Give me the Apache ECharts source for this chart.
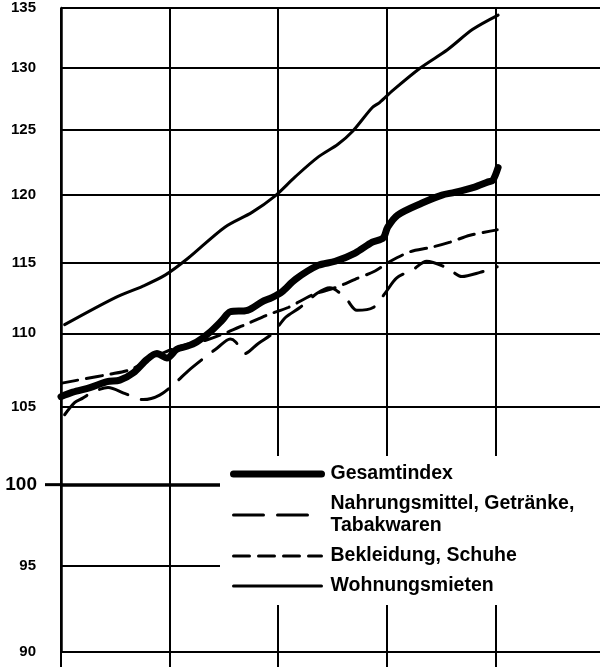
<!DOCTYPE html>
<html>
<head>
<meta charset="utf-8">
<script src="https://cdn.jsdelivr.net/npm/echarts@6.0.0/dist/echarts.min.js"></script>
<style>
  html, body { margin: 0; padding: 0; background: #fff; }
  #chart { width: 600px; height: 671px; }
</style>
</head>
<body>
<div id="chart"></div>
<script>
// index values, x = months from the first grid line
const yTicks = [90, 95, 100, 105, 110, 115, 120, 125, 130, 135]
const names = ['Gesamtindex', 'Nahrungsmittel, Getränke,\nTabakwaren', 'Bekleidung, Schuhe', 'Wohnungsmieten']

const gesamtindex = [
  [0, 105.7], [1.3, 106.0], [3.2, 106.3], [5.1, 106.7], [6.5, 106.8], [8, 107.3],
  [9.5, 108.2], [10.6, 108.6], [11.7, 108.3], [12.8, 108.9], [13.9, 109.1], [15, 109.4],
  [16.5, 110.1], [17.8, 110.9], [18.7, 111.5], [20.6, 111.6], [22.2, 112.2], [23.3, 112.5],
  [24.4, 112.9], [25.9, 113.8], [28.4, 114.8], [30.3, 115.1], [32.5, 115.7], [34.4, 116.5],
  [35.6, 116.8], [36.1, 117.6], [37.2, 118.5], [39.9, 119.4], [42.1, 120.0], [43.5, 120.2],
  [45.7, 120.6], [47.2, 121.0], [47.7, 121.1], [48.3, 122.1]
]

const nahrung = [
  [0.4, 104.5], [1.5, 105.3], [2.4, 105.6], [3.5, 106.0], [5.2, 106.3], [7.1, 105.9],
  [9.1, 105.5], [10.9, 105.8], [12.6, 106.6], [14, 107.4], [15.6, 108.2], [17.3, 109.0],
  [18.7, 109.6], [19.3, 109.4], [20.3, 108.6], [21.8, 109.3], [23.4, 110.0], [24.8, 111.1],
  [26.4, 111.8], [28.3, 112.8], [29.7, 113.2], [31.4, 112.5], [32.7, 111.6], [34.5, 111.8],
  [35.8, 112.8], [37.1, 113.9], [38.9, 114.5], [40.4, 115.1], [42.7, 114.6], [44.3, 114.0],
  [46.3, 114.3], [48.2, 114.7]
]

const bekleidung = [
  [0.1, 106.6], [2.7, 106.9], [5.4, 107.2], [7.6, 107.5], [9.8, 108.2], [11.5, 108.7],
  [13.7, 109.2], [15.9, 109.5], [18.1, 110.0], [20.7, 110.7], [22.9, 111.3], [25.1, 111.8],
  [27.8, 112.7], [30.3, 113.2], [32.5, 113.8], [34.7, 114.4], [36.4, 115.1], [38.6, 115.8],
  [40.8, 116.1], [43, 116.5], [45.2, 117.0], [48.2, 117.4]
]

const wohnungsmieten = [
  [0.4, 110.6], [6, 112.5], [9, 113.3], [11.5, 114.1], [14, 115.3], [18.1, 117.6],
  [21.1, 118.7], [23.6, 119.9], [25.9, 121.4], [28.4, 122.9], [30.6, 123.9], [32.2, 124.9],
  [34.4, 126.8], [35.2, 127.2], [36.7, 128.2], [39.7, 130.0], [42.7, 131.5], [45.5, 133.2],
  [48.3, 134.4]
]

const font = "'Liberation Sans', Arial, sans-serif"

const chart = echarts.init(document.getElementById('chart'))

const option = {
  animation: false,
  backgroundColor: '#fff',
  grid: { left: 61, top: 8, width: 543, height: 644, outerBoundsMode: 'none' },
  legend: {
    orient: 'vertical',
    left: 220,
    top: 456,
    z: 10,
    padding: [7, 40, 8, 10],
    backgroundColor: '#fff',
    itemWidth: 88,
    itemHeight: 22,
    itemGap: 8,
    selectedMode: false,
    itemStyle: { opacity: 0 },
    lineStyle: { width: 'inherit' },
    textStyle: {
      fontFamily: font, fontSize: 19.5, fontWeight: 'bold', color: '#000',
      lineHeight: 22, padding: [0, 0, 0, 4]
    },
    data: names
  },
  xAxis: {
    type: 'value',
    min: 0,
    max: 60,
    interval: 12,
    axisLine: { lineStyle: { color: '#000', width: 2 } },
    axisTick: { length: 15, lineStyle: { color: '#000', width: 2 } },
    axisLabel: { show: false },
    splitLine: { lineStyle: { color: '#000', width: 2 } }
  },
  yAxis: {
    type: 'log',
    min: 90,
    max: 135,
    axisLine: { show: true, lineStyle: { color: '#000', width: 2.5 } },
    axisTick: { show: false, customValues: yTicks },
    splitLine: { lineStyle: { color: '#000', width: 2 } },
    axisLabel: {
      customValues: yTicks,
      margin: 0,
      formatter: v => Math.round(v) === 100 ? '{big|100}{gap|}{bar|}' : '{n|' + Math.round(v) + '}{sp|}',
      rich: {
        n: { fontFamily: font, fontSize: 15, fontWeight: 'bold', color: '#000' },
        sp: { width: 25 },
        big: { fontFamily: font, fontSize: 19, fontWeight: 'bold', color: '#000' },
        gap: { width: 8 },
        bar: { width: 16, height: 3, backgroundColor: '#000', verticalAlign: 'middle' }
      }
    }
  },
  series: [
    {
      name: names[0],
      type: 'line',
      data: gesamtindex,
      symbol: 'none',
      smooth: 0.3,
      z: 3,
      itemStyle: { color: '#000' },
      lineStyle: { color: '#000', width: 7, cap: 'round', join: 'round' },
      markLine: {
        silent: true,
        symbol: 'none',
        label: { show: false },
        lineStyle: { color: '#000', width: 3.5, type: 'solid' },
        data: [{ yAxis: 100 }]
      }
    },
    {
      name: names[1],
      type: 'line',
      data: nahrung,
      symbol: 'none',
      smooth: 0.3,
      itemStyle: { color: '#000' },
      lineStyle: { color: '#000', width: 3, type: [30, 14], cap: 'round' }
    },
    {
      name: names[2],
      type: 'line',
      data: bekleidung,
      symbol: 'none',
      smooth: 0.3,
      itemStyle: { color: '#000' },
      lineStyle: { color: '#000', width: 3, type: [16, 9], cap: 'round' }
    },
    {
      name: names[3],
      type: 'line',
      data: wohnungsmieten,
      symbol: 'none',
      smooth: 0.3,
      itemStyle: { color: '#000' },
      lineStyle: { color: '#000', width: 3, cap: 'round' }
    }
  ]
}

chart.setOption(option)
</script>
</body>
</html>
